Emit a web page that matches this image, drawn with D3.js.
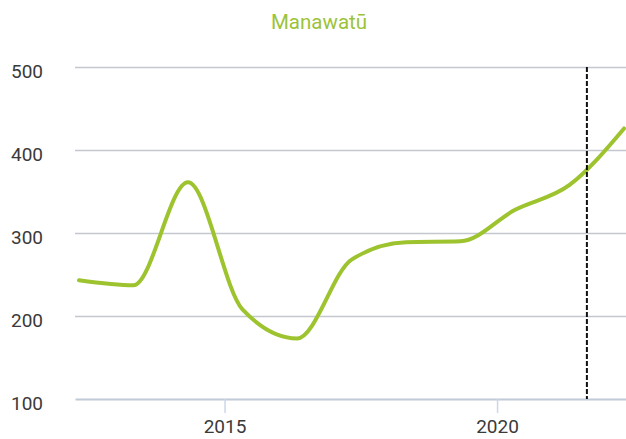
<!DOCTYPE html>
<html>
<head>
<meta charset="utf-8">
<script src="https://cdn.jsdelivr.net/npm/d3@7"></script>
<style>
  html, body { margin: 0; padding: 0; background: #fff; }
  svg { display: block; font-family: Roboto, "Noto Sans", sans-serif; }
</style>
</head>
<body>
<script>
const title = "Manawatū";
const dates = ["2012-05-01","2013-05-01","2014-05-01","2015-05-01","2016-05-01","2017-05-01","2018-05-01","2019-05-01","2020-05-01","2021-05-01","2022-05-01"];
const values = [243, 237, 361, 208, 173, 268, 289, 290, 328, 358, 426];
const yTicks = [100, 200, 300, 400, 500];
const xTickYears = [2015, 2020];
const markerDate = "2021-08-25";

const W = 626, H = 439;
const parse = d3.utcParse("%Y-%m-%d");
const data = dates.map((d, i) => ({ date: parse(d), value: values[i] }));

const svg = d3.select("body").append("svg").attr("width", W).attr("height", H);

const x = d3.scaleUtc()
  .domain([parse("2012-04-04"), parse("2022-05-14")])
  .range([75, 626]);
const y = d3.scaleLinear().domain([100, 500]).range([399, 67]);

// title
svg.append("text")
  .attr("x", 319).attr("y", 29)
  .attr("text-anchor", "middle")
  .attr("fill", "#9bc33a")
  .style("font-size", "20.5px")
  .text(title);

// gridlines
svg.append("g").selectAll("line").data(yTicks.filter(t => t !== 100)).join("line")
  .attr("x1", 75).attr("x2", 626)
  .attr("y1", d => Math.round(y(d)) + 0.5).attr("y2", d => Math.round(y(d)) + 0.5)
  .attr("stroke", "#c4c8ce").attr("stroke-width", 1.5);

// y labels
svg.append("g").selectAll("text").data(yTicks).join("text")
  .attr("x", 43).attr("y", d => y(d) + 6)
  .attr("text-anchor", "end")
  .attr("dominant-baseline", "middle")
  .attr("fill", "#3a3a3a")
  .style("font-size", "19px")
  .text(d => d);

// x axis
const xAxis = d3.axisBottom(x)
  .tickValues(xTickYears.map(yr => new Date(Date.UTC(yr, 0, 1))))
  .tickFormat(d3.utcFormat("%Y"))
  .tickSizeInner(14)
  .tickSizeOuter(0)
  .tickPadding(7);
const gx = svg.append("g").attr("transform", `translate(0,${y(100)})`).call(xAxis);
gx.select(".domain").attr("stroke", "#c0cad8").attr("stroke-width", 2);
gx.selectAll(".tick line").attr("stroke", "#ccd6eb").attr("stroke-width", 1.5);
gx.selectAll(".tick text").attr("fill", "#3a3a3a").style("font-size", "19px").style("font-family", "Roboto, sans-serif");

// line
const line = d3.line()
  .x(d => x(d.date)).y(d => y(d.value))
  .curve(d3.curveMonotoneX);
svg.append("path").datum(data)
  .attr("d", line)
  .attr("fill", "none")
  .attr("stroke", "#9dc32f")
  .attr("stroke-width", 4)
  .attr("stroke-linejoin", "round")
  .attr("stroke-linecap", "round");

// dashed marker
const mx = x(parse(markerDate));
svg.append("line")
  .attr("x1", mx).attr("x2", mx)
  .attr("y1", y(500)).attr("y2", y(100))
  .attr("stroke", "#111").attr("stroke-width", 2)
  .attr("stroke-dasharray", "5,2");
</script>
</body>
</html>
